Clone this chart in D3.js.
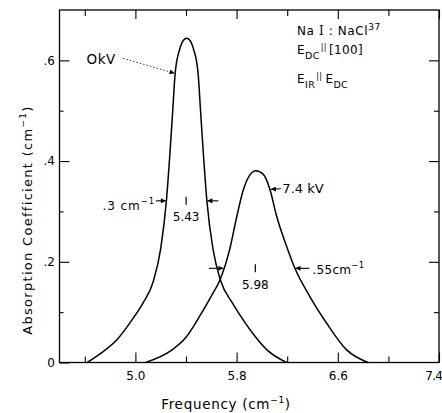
<!DOCTYPE html>
<html><head><meta charset="utf-8">
<script src="https://cdn.jsdelivr.net/npm/d3@7"></script>
<style>
html,body{margin:0;padding:0;background:#fff;}
svg{display:block;font-family:"DejaVu Sans",sans-serif;}
</style></head><body>
<svg id="c" width="442" height="413"></svg>
<script>
// ---- data ----
const freq0kV = [4.62, 4.72, 4.85, 4.98, 5.06, 5.14, 5.20, 5.245, 5.275, 5.295, 5.315, 5.35, 5.38, 5.405, 5.43, 5.46, 5.495, 5.515, 5.535, 5.565, 5.615, 5.672, 5.77, 5.83, 5.93, 6.04, 6.195];
const abs0kV  = [0, 0.017, 0.044, 0.087, 0.118, 0.160, 0.226, 0.321, 0.423, 0.50, 0.576, 0.622, 0.640, 0.644, 0.640, 0.622, 0.576, 0.50, 0.423, 0.321, 0.223, 0.164, 0.117, 0.093, 0.057, 0.025, 0];
const freq74kV = [5.08, 5.284, 5.40, 5.508, 5.60, 5.672, 5.746, 5.799, 5.851, 5.904, 5.952, 6.01, 6.063, 6.116, 6.195, 6.261, 6.379, 6.512, 6.67, 6.839];
const abs74kV  = [0, 0.024, 0.05, 0.092, 0.132, 0.166, 0.225, 0.287, 0.341, 0.372, 0.381, 0.374, 0.344, 0.291, 0.231, 0.187, 0.131, 0.078, 0.025, 0];
const xMajorTicks = [5.0, 5.8, 6.6, 7.4];
const xMinorTicks = [4.6, 5.4, 6.2, 7.0];
const yMajorTicks = [0, 0.2, 0.4, 0.6];
const yMinorTicks = [0.1, 0.3, 0.5];
const peakLabels = ["5.43", "5.98"];
const widthLabels = [".3 cm", ".55cm"];
const halfMaxLevels = [0.321, 0.187];
const halfMaxEdges0kV = [5.245, 5.565];
const halfMaxEdges74kV = [5.70, 6.261];
const seriesLabels = ["OkV", "7.4 kV"];

// ---- layout ----
const svg = d3.select("#c");
const x = d3.scaleLinear().domain([4.4, 7.4]).range([59.5, 439]);
const y = d3.scaleLinear().domain([0, 0.7]).range([362.5, 10]);
const FS = 12;

const defs = svg.append("defs");
defs.append("marker").attr("id","arr").attr("viewBox","0 0 10 10")
  .attr("refX",10).attr("refY",5).attr("markerWidth",7).attr("markerHeight",5)
  .attr("markerUnits","userSpaceOnUse").attr("orient","auto")
  .append("path").attr("d","M0,0L10,5L0,10z").attr("fill","#000");

function clean(g){ g.select(".domain").remove(); g.selectAll("line").attr("stroke","#000").attr("stroke-width",1.1); g.selectAll("text").attr("fill","#000").attr("font-size",FS).attr("font-family","DejaVu Sans"); }

// frame
svg.append("rect").attr("x",x(4.4)).attr("y",y(0.7)).attr("width",x(7.4)-x(4.4)).attr("height",y(0)-y(0.7))
  .attr("fill","none").attr("stroke","#000").attr("stroke-width",1.3);

// bottom axis
const bx = svg.append("g").attr("transform",`translate(0,${y(0)})`)
  .call(d3.axisBottom(x).tickValues(xMajorTicks).tickSize(-10).tickPadding(9).tickFormat(d3.format(".1f"))).call(clean);
// last label sits at the window edge: keep it fully visible
bx.selectAll(".tick").filter(d => d === 7.4).select("text")
  .attr("text-anchor","end").attr("x", 441.5 - x(7.4)).attr("letter-spacing",-0.8);
svg.append("g").attr("transform",`translate(0,${y(0)})`)
  .call(d3.axisBottom(x).tickValues(xMinorTicks).tickSize(-6).tickFormat("")).call(clean);
// top axis
svg.append("g").attr("transform",`translate(0,${y(0.7)})`)
  .call(d3.axisTop(x).tickValues(xMajorTicks).tickSize(-9).tickFormat("")).call(clean);
svg.append("g").attr("transform",`translate(0,${y(0.7)})`)
  .call(d3.axisTop(x).tickValues(xMinorTicks).tickSize(-6).tickFormat("")).call(clean);
// left axis
svg.append("g").attr("transform",`translate(${x(4.4)},0)`)
  .call(d3.axisLeft(y).tickValues(yMajorTicks).tickSize(-10).tickPadding(4.5)
    .tickFormat(d => d === 0 ? "0" : "." + Math.round(d*10))).call(clean);
svg.append("g").attr("transform",`translate(${x(4.4)},0)`)
  .call(d3.axisLeft(y).tickValues(yMinorTicks).tickSize(-4).tickFormat("")).call(clean);
// right axis
svg.append("g").attr("transform",`translate(${x(7.4)},0)`)
  .call(d3.axisRight(y).tickValues(yMajorTicks.slice(1)).tickSize(-10).tickFormat("")).call(clean);
svg.append("g").attr("transform",`translate(${x(7.4)},0)`)
  .call(d3.axisRight(y).tickValues(yMinorTicks).tickSize(-5).tickFormat("")).call(clean);

// axis titles
const xt = svg.append("text").attr("x",226).attr("y",409).attr("text-anchor","middle")
  .attr("font-size",13.5).attr("letter-spacing",0.7);
xt.append("tspan").text("Frequency (cm");
xt.append("tspan").attr("font-size",9).attr("dy",-6).text("\u22121");
xt.append("tspan").attr("dy",6).text(")");

const yt = svg.append("text").attr("transform","translate(32,220) rotate(-90)").attr("text-anchor","middle")
  .attr("font-size",13).attr("letter-spacing",1.3);
yt.append("tspan").text("Absorption Coefficient (cm");
yt.append("tspan").attr("font-size",9).attr("dy",-6).text("\u22121");
yt.append("tspan").attr("dy",6).text(")");

// curves
const line = d3.line().x(d => x(d[0])).y(d => y(d[1])).curve(d3.curveMonotoneX);
[[freq0kV, abs0kV],[freq74kV, abs74kV]].forEach(([f,a]) => {
  svg.append("path").datum(f.map((v,i)=>[v,a[i]])).attr("d",line)
    .attr("fill","none").attr("stroke","#000").attr("stroke-width",1.5).attr("stroke-linejoin","round");
});

// peak markers and labels
[[freq0kV, abs0kV],[freq74kV, abs74kV]].forEach(([f,a],k) => {
  const i = a.indexOf(d3.max(a));
  const px = x(f[i]) - 0.5, ly = y(halfMaxLevels[k]);
  svg.append("line").attr("x1",px).attr("x2",px).attr("y1",ly-4).attr("y2",ly+4)
    .attr("stroke","#000").attr("stroke-width",1.2);
  svg.append("text").attr("x",px).attr("y",ly+20.5).attr("text-anchor","middle")
    .attr("font-size",FS).text(peakLabels[k]);
});

function arrow(x1,y1,x2,y2,dash){
  const l = svg.append("line").attr("x1",x1).attr("y1",y1).attr("x2",x2).attr("y2",y2)
    .attr("stroke","#000").attr("stroke-width",dash?0.8:1.1).attr("marker-end","url(#arr)");
  if (dash) l.attr("stroke-dasharray","1.5,2");
}
// half-width arrows
const l0 = y(halfMaxLevels[0]), l1 = y(halfMaxLevels[1]);
arrow(x(halfMaxEdges0kV[0])-10.5, l0, x(halfMaxEdges0kV[0])-0.5, l0);
arrow(x(halfMaxEdges0kV[1])+11.5, l0, x(halfMaxEdges0kV[1])+0.5, l0);
arrow(x(halfMaxEdges74kV[0])-15, l1, x(halfMaxEdges74kV[0])-0.5, l1);
arrow(x(halfMaxEdges74kV[1])+14.5, l1, x(halfMaxEdges74kV[1])+0.5, l1);

// width labels
const w1 = svg.append("text").attr("x",155).attr("y",l0+9).attr("text-anchor","end")
  .attr("font-size",FS).attr("letter-spacing",0.9);
w1.append("tspan").text(widthLabels[0]);
w1.append("tspan").attr("font-size",8.5).attr("dy",-6).text("\u22121");
const w2 = svg.append("text").attr("x",x(halfMaxEdges74kV[1])+17.5).attr("y",l1+6)
  .attr("font-size",FS).attr("letter-spacing",0.3);
w2.append("tspan").text(widthLabels[1]);
w2.append("tspan").attr("font-size",8.5).attr("dy",-6).text("\u22121");

// series labels
svg.append("text").attr("x",86.5).attr("y",63.5).attr("font-size",13.5).attr("letter-spacing",0.5).text(seriesLabels[0]);
arrow(123, 58.3, 174.5, 73.3, true);
arrow(x(6.063)+11, y(0.344)-0.5, x(6.063)+1, y(0.344));
svg.append("text").attr("x",x(6.063)+12.5).attr("y",y(0.344)+3.5).attr("font-size",13).text(seriesLabels[1]);

// condition block (top right)
const r1 = svg.append("text").attr("x",297).attr("y",35).attr("font-size",FS).attr("letter-spacing",0.6);
r1.append("tspan").text("Na ");
r1.append("tspan").attr("font-family","DejaVu Serif").text("I");
r1.append("tspan").text(" : NaCl");
r1.append("tspan").attr("font-size",9).attr("dy",-5).text("37");

const r2 = svg.append("text").attr("x",297).attr("y",54).attr("font-size",FS).attr("letter-spacing",0.4);
r2.append("tspan").text("E");
r2.append("tspan").attr("font-size",9.5).attr("dy",5).text("DC");
r2.append("tspan").attr("font-size",8).attr("dy",-9).attr("dx",1).text("||");
r2.append("tspan").attr("dy",4).attr("dx",2).text("[100]");

const r3 = svg.append("text").attr("x",297).attr("y",83).attr("font-size",FS).attr("letter-spacing",0.4);
r3.append("tspan").text("E");
r3.append("tspan").attr("font-size",9.5).attr("dy",5).text("IR");
r3.append("tspan").attr("font-size",8).attr("dy",-9).attr("dx",1).text("||");
r3.append("tspan").attr("dy",4).attr("dx",3).text("E");
r3.append("tspan").attr("font-size",9.5).attr("dy",5).text("DC");
</script>
</body></html>
